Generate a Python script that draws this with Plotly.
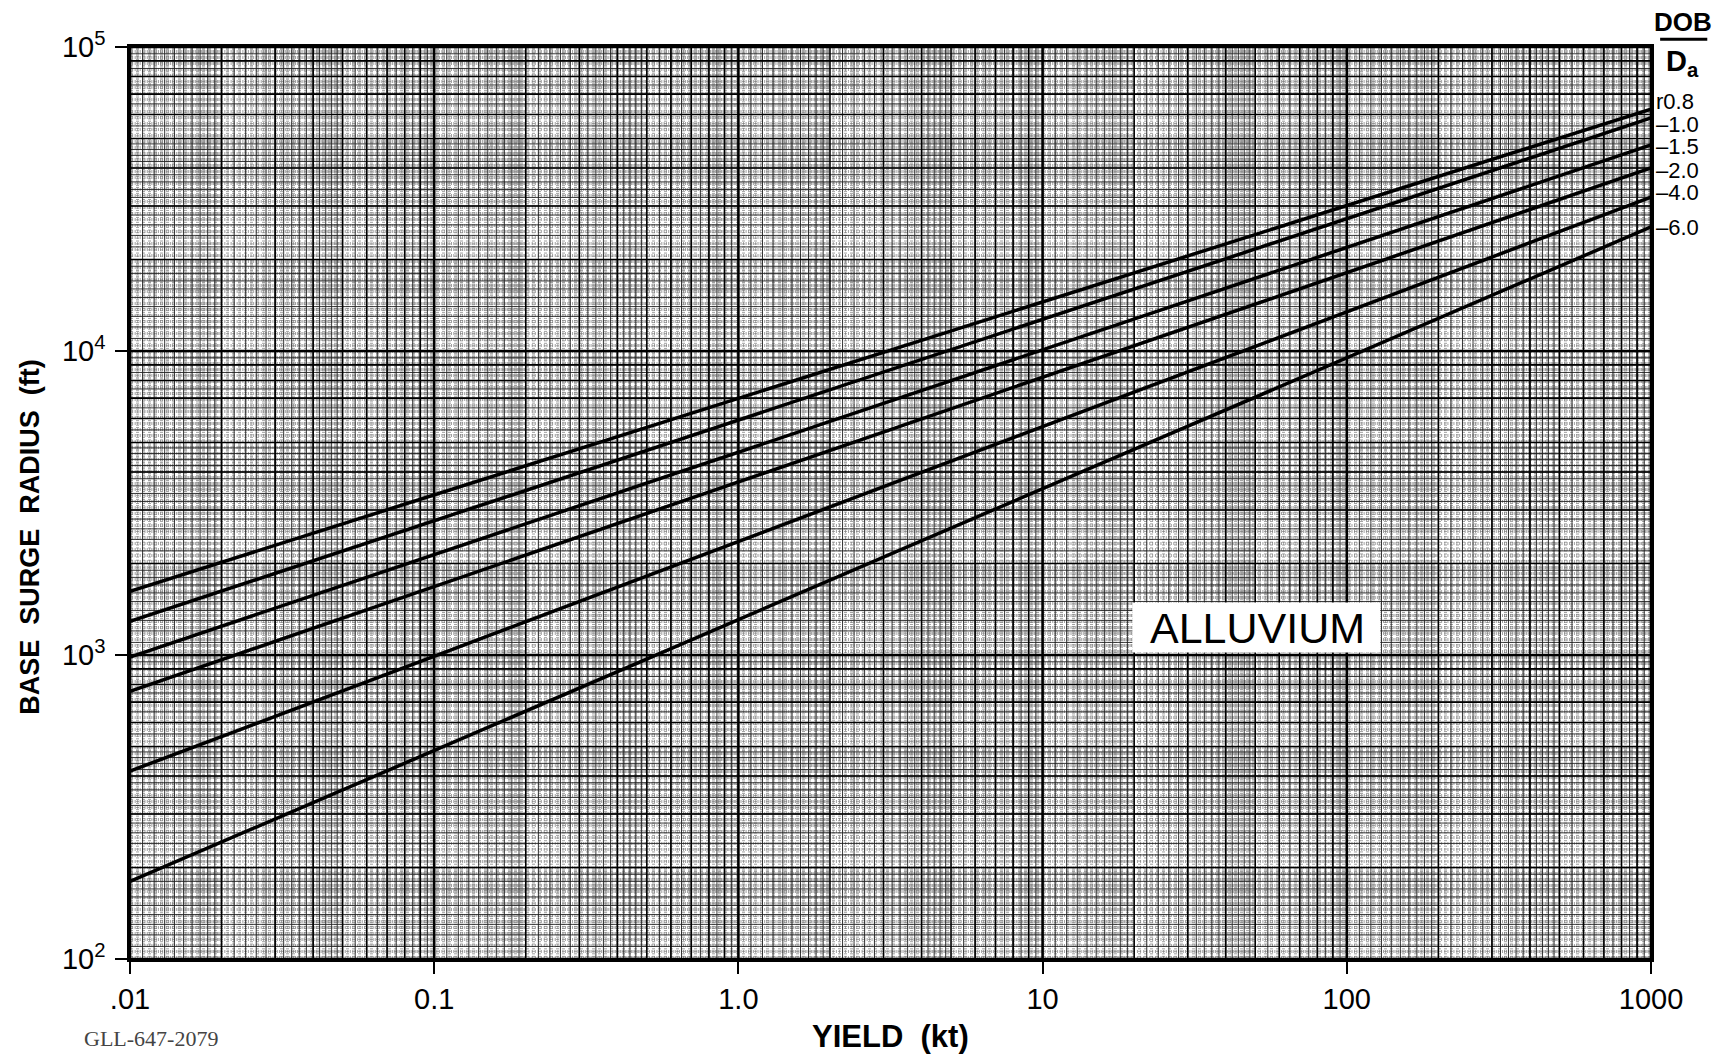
import numpy as np
import plotly.graph_objects as go

# ---- data ----
dob_labels = ["0.8", "1.0", "1.5", "2.0", "4.0", "6.0"]
yield_ends = [0.01, 1000]                      # kt
radius_at_001 = [1620, 1290, 985, 760, 415, 180]        # ft at 0.01 kt
radius_at_1000 = [62500, 58400, 47600, 40000, 32100, 25600]  # ft at 1000 kt

x_tickvals = [0.01, 0.1, 1, 10, 100, 1000]
x_ticktext = [".01", "0.1", "1.0", "10", "100", "1000"]
y_tickvals = [1e2, 1e3, 1e4, 1e5]
y_ticktext = ["10<sup>2</sup>", "10<sup>3</sup>", "10<sup>4</sup>", "10<sup>5</sup>"]

label_paper_y = [0.940, 0.915, 0.891, 0.865, 0.840, 0.802]
label_prefix = ["r", "–", "–", "–", "–", "–"]

XMIN, XMAX = 0.01, 1000
YMIN, YMAX = 100, 1e5

fig = go.Figure()


def decade_values(lo_exp, hi_exp, mults):
    vals = []
    for e in range(lo_exp, hi_exp):
        for m in mults:
            vals.append(m * 10.0 ** e)
    return vals


def grid_trace(xs, ys, color, width, dash="solid"):
    px, py = [], []
    for x in xs:
        px += [x, x, None]
        py += [YMIN, YMAX, None]
    for y in ys:
        px += [XMIN, XMAX, None]
        py += [y, y, None]
    fig.add_trace(go.Scatter(x=px, y=py, mode="lines",
                             line=dict(color=color, width=width, dash=dash),
                             hoverinfo="skip", showlegend=False))


# extra-fine (dotted texture)
xf = list(np.arange(1.02, 2.0, 0.02)) + list(np.arange(2.05, 5.0, 0.05)) + list(np.arange(5.1, 10.0, 0.1))
grid_trace(decade_values(-2, 3, xf), decade_values(2, 5, xf), "#777777", 0.7, "dot")
# fine
f = list(np.arange(1.1, 2.0, 0.1)) + list(np.arange(2.2, 5.0, 0.2)) + list(np.arange(5.5, 10.0, 0.5))
grid_trace(decade_values(-2, 3, f), decade_values(2, 5, f), "#222222", 0.9)
# integer lines
ints = [2, 3, 4, 5, 6, 7, 8, 9]
grid_trace(decade_values(-2, 3, ints), decade_values(2, 5, ints), "#000000", 1.6)
# decades
grid_trace(decade_values(-2, 4, [1]), decade_values(2, 6, [1]), "#000000", 2.6)

# data lines
for lab, r0, r1 in zip(dob_labels, radius_at_001, radius_at_1000):
    fig.add_trace(go.Scatter(x=yield_ends, y=[r0, r1], mode="lines",
                             line=dict(color="black", width=3.5),
                             name="DOB/Da = " + lab, showlegend=False))

FONT = "Liberation Sans"
annotations = []
for lab, py, pre in zip(dob_labels, label_paper_y, label_prefix):
    annotations.append(dict(x=1.002, y=py, xref="paper", yref="paper",
                            text=pre + lab, showarrow=False, xanchor="left", yanchor="middle",
                            font=dict(family=FONT, size=22, color="black")))
annotations.append(dict(x=1.021, y=1.027, xref="paper", yref="paper", text="<b>DOB</b>",
                        showarrow=False, xanchor="center", yanchor="middle",
                        font=dict(family=FONT, size=26, color="black")))
annotations.append(dict(x=1.021, y=0.982, xref="paper", yref="paper", text="<b>D<sub>a</sub></b>",
                        showarrow=False, xanchor="center", yanchor="middle",
                        font=dict(family=FONT, size=29, color="black")))
annotations.append(dict(x=0.741, y=0.363, xref="paper", yref="paper", text="ALLUVIUM",
                        showarrow=False, xanchor="center", yanchor="middle",
                        font=dict(family=FONT, size=43, color="black")))
annotations.append(dict(x=-0.0316, y=-0.087, xref="paper", yref="paper", text="GLL-647-2079",
                        showarrow=False, xanchor="left", yanchor="middle",
                        font=dict(family="Liberation Serif", size=22, color="#444444")))
annotations.append(dict(x=0.5, y=-0.085, xref="paper", yref="paper", text="<b>YIELD  (kt)</b>",
                        showarrow=False, xanchor="center", yanchor="middle",
                        font=dict(family=FONT, size=31, color="black")))
annotations.append(dict(x=-0.0657, y=0.463, xref="paper", yref="paper",
                        text="<b>BASE  SURGE  RADIUS  (ft)</b>", textangle=-90,
                        showarrow=False, xanchor="center", yanchor="middle",
                        font=dict(family=FONT, size=27, color="black")))

shapes = [
    dict(type="rect", xref="paper", yref="paper", x0=0.659, x1=0.822, y0=0.336, y1=0.391,
         fillcolor="white", line=dict(width=0), layer="above"),
    dict(type="line", xref="paper", yref="paper", x0=1.006, x1=1.037, y0=1.0085, y1=1.0085,
         line=dict(color="black", width=3)),
]

fig.update_layout(
    width=1711, height=1046, autosize=False,
    margin=dict(l=122, r=68, t=39, b=95),
    paper_bgcolor="white", plot_bgcolor="white",
    annotations=annotations, shapes=shapes,
    font=dict(family=FONT, color="black"),
    xaxis=dict(type="log", range=[np.log10(XMIN), np.log10(XMAX)],
               tickvals=x_tickvals, ticktext=x_ticktext,
               ticks="outside", ticklen=12, tickwidth=2, tickcolor="black",
               tickfont=dict(size=29, family=FONT),
               showgrid=False, zeroline=False,
               showline=True, linecolor="black", linewidth=2.5, mirror=True),
    yaxis=dict(type="log", range=[np.log10(YMIN), np.log10(YMAX)],
               tickvals=y_tickvals, ticktext=y_ticktext,
               ticks="outside", ticklen=12, tickwidth=2, tickcolor="black",
               tickfont=dict(size=29, family=FONT), ticklabelstandoff=4,
               showgrid=False, zeroline=False,
               showline=True, linecolor="black", linewidth=2.5, mirror=True),
)

fig.write_html("out.html")
